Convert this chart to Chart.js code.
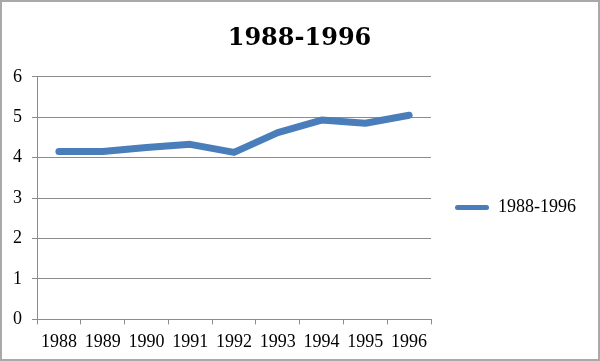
<!DOCTYPE html>
<html>
<head>
<meta charset="utf-8">
<script src="https://cdn.jsdelivr.net/npm/chart.js@4/dist/chart.umd.min.js"></script>
<style>
  html, body { margin: 0; padding: 0; background: #fff; }
  #wrap { width: 600px; height: 361px; position: relative; }
</style>
</head>
<body>
<div id="wrap"><canvas id="c" width="600" height="361"></canvas></div>
<script>
const categories = ["1988", "1989", "1990", "1991", "1992", "1993", "1994", "1995", "1996"];
const seriesName = "1988-1996";
const seriesValues = [4.15, 4.15, 4.25, 4.33, 4.13, 4.62, 4.93, 4.85, 5.05];
const chartTitle = "1988-1996";
const yMin = 0, yMax = 6, yStep = 1;

const lineColor = '#4A7EBB';
const gridColor = '#8c8c8c';
const serif = "'Liberation Serif', 'Times New Roman', serif";

const frame = {
  id: 'frame',
  beforeDraw(chart) {
    const ctx = chart.ctx;
    ctx.save();
    ctx.fillStyle = '#fff';
    ctx.fillRect(0, 0, chart.width, chart.height);
    ctx.restore();
  },
  afterDraw(chart) {
    const ctx = chart.ctx;
    ctx.save();
    ctx.strokeStyle = '#a9a9a9';
    ctx.lineWidth = 2;
    ctx.strokeRect(1, 1, chart.width - 2, chart.height - 2);
    ctx.restore();
  }
};

new Chart(document.getElementById('c'), {
  type: 'line',
  data: {
    labels: categories,
    datasets: [{
      label: seriesName,
      data: seriesValues,
      borderColor: lineColor,
      backgroundColor: lineColor,
      borderWidth: 7,
      borderCapStyle: 'round',
      borderJoinStyle: 'round',
      pointRadius: 0,
      pointHoverRadius: 0,
      tension: 0,
      fill: false
    }]
  },
  options: {
    responsive: false,
    animation: false,
    devicePixelRatio: 1,
    layout: { padding: { top: 2, bottom: 1, left: 13, right: 14 } },
    plugins: {
      tooltip: { enabled: false },
      title: {
        display: true,
        text: chartTitle,
        color: '#000',
        font: { family: "'DejaVu Serif', serif", size: 24, weight: 'bold', lineHeight: 1.2 },
        padding: { top: 22, bottom: 24 }
      },
      legend: {
        display: true,
        position: 'right',
        fullSize: false,
        align: 'center',
        maxWidth: 300,
        title: { display: true, text: ' ', font: { size: 10, lineHeight: 1.2 }, padding: { top: 3, bottom: 4 } },
        labels: {
          boxWidth: 34,
          boxHeight: 5,
          padding: 24,
          color: '#000',
          font: { family: serif, size: 18, lineHeight: 1.2 },
          generateLabels(chart) {
            return Chart.defaults.plugins.legend.labels.generateLabels(chart).map(l => {
              l.lineWidth = 0;
              l.fillStyle = lineColor;
              l.borderRadius = 2.5;
              return l;
            });
          }
        }
      }
    },
    scales: {
      x: {
        type: 'category',
        offset: true,
        grid: { offset: true, drawOnChartArea: false, drawTicks: true, tickLength: 5, color: gridColor, lineWidth: 1 },
        border: { display: true, color: gridColor, width: 1 },
        ticks: { color: '#000', padding: 7, maxRotation: 0, autoSkip: false, font: { family: serif, size: 18, lineHeight: 1.2 } }
      },
      y: {
        min: yMin,
        max: yMax,
        afterFit(scale) { scale.width = 24; },
        grid: { drawTicks: true, tickLength: 5, color: gridColor, lineWidth: 1 },
        border: { display: true, color: gridColor, width: 1 },
        ticks: { stepSize: yStep, color: '#000', padding: 10, font: { family: serif, size: 18, lineHeight: 1.2 } }
      }
    }
  },
  plugins: [frame]
});
</script>
</body>
</html>
